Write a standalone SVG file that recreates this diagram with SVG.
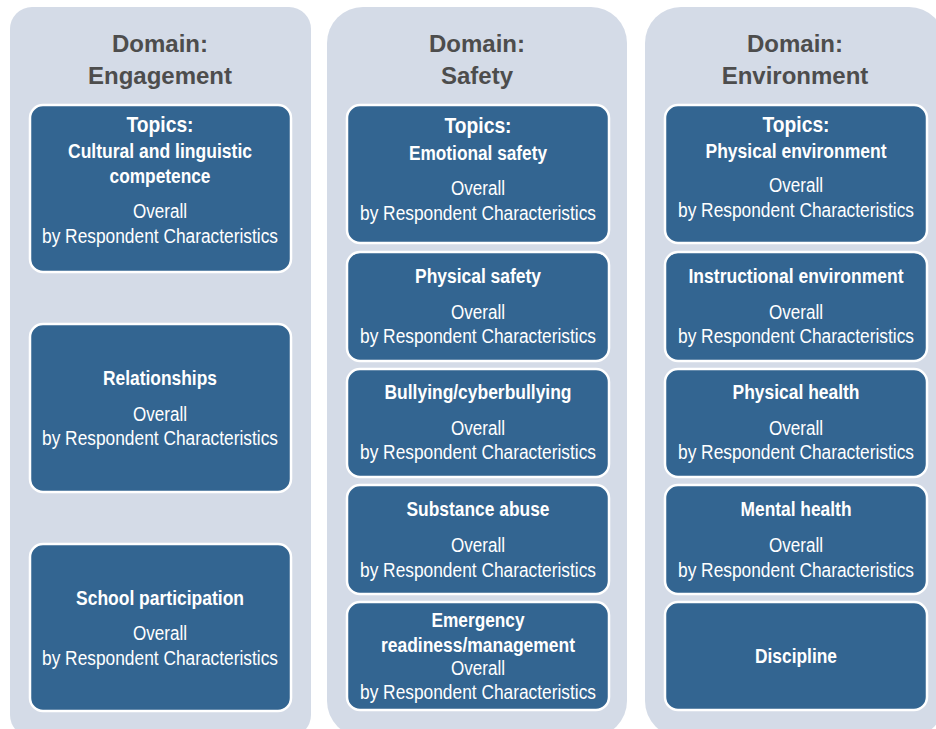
<svg xmlns="http://www.w3.org/2000/svg" width="936" height="729" viewBox="0 0 936 729">
<style>
.panel{fill:#d4dbe7}
.box{fill:#336591;stroke:#ffffff;stroke-width:2.5}
.dt{font-family:"Liberation Sans",Arial,sans-serif;font-weight:bold;font-size:24px;fill:#4d4d4d;text-anchor:middle}
.tp{font-family:"Liberation Sans",Arial,sans-serif;font-weight:bold;font-size:22px;fill:#ffffff;text-anchor:middle}
.tb{font-family:"Liberation Sans",Arial,sans-serif;font-weight:bold;font-size:20px;fill:#ffffff;text-anchor:middle}
.tr{font-family:"Liberation Sans",Arial,sans-serif;font-size:20px;fill:#ffffff;text-anchor:middle}
</style>
<rect width="936" height="729" fill="#ffffff"/>
<g id="panel-engagement">
<rect class="panel" x="10" y="7" width="301" height="730" rx="22"/>
<text class="dt" x="160" y="52">Domain:</text>
<text class="dt" x="160" y="84">Engagement</text>
</g>
<g id="panel-safety">
<rect class="panel" x="327" y="7" width="300" height="730" rx="36"/>
<text class="dt" x="477" y="52">Domain:</text>
<text class="dt" x="477" y="84">Safety</text>
</g>
<g id="panel-environment">
<rect class="panel" x="645" y="7" width="300" height="730" rx="36"/>
<text class="dt" x="795" y="52">Domain:</text>
<text class="dt" x="795" y="84">Environment</text>
</g>
<g id="connectors"></g>
<g id="n-cultural">
<rect class="box" x="30" y="105" width="261" height="167" rx="13"/>
<text class="tp" x="160" y="132" textLength="67" lengthAdjust="spacingAndGlyphs">Topics:</text>
<text class="tb" x="160" y="158" textLength="184" lengthAdjust="spacingAndGlyphs">Cultural and linguistic</text>
<text class="tb" x="160" y="183" textLength="101" lengthAdjust="spacingAndGlyphs">competence</text>
<text class="tr" x="160" y="218" textLength="54" lengthAdjust="spacingAndGlyphs">Overall</text>
<text class="tr" x="160" y="243" textLength="236" lengthAdjust="spacingAndGlyphs">by Respondent Characteristics</text>
</g>
<g id="n-relationships">
<rect class="box" x="30" y="324" width="261" height="168" rx="13"/>
<text class="tb" x="160" y="385" textLength="114" lengthAdjust="spacingAndGlyphs">Relationships</text>
<text class="tr" x="160" y="421" textLength="54" lengthAdjust="spacingAndGlyphs">Overall</text>
<text class="tr" x="160" y="445" textLength="236" lengthAdjust="spacingAndGlyphs">by Respondent Characteristics</text>
</g>
<g id="n-school">
<rect class="box" x="30" y="544" width="261" height="167" rx="13"/>
<text class="tb" x="160" y="605" textLength="168" lengthAdjust="spacingAndGlyphs">School participation</text>
<text class="tr" x="160" y="640" textLength="54" lengthAdjust="spacingAndGlyphs">Overall</text>
<text class="tr" x="160" y="665" textLength="236" lengthAdjust="spacingAndGlyphs">by Respondent Characteristics</text>
</g>
<g id="n-emotional">
<rect class="box" x="347" y="105" width="262" height="138" rx="13"/>
<text class="tp" x="478" y="133" textLength="67" lengthAdjust="spacingAndGlyphs">Topics:</text>
<text class="tb" x="478" y="160" textLength="138" lengthAdjust="spacingAndGlyphs">Emotional safety</text>
<text class="tr" x="478" y="195" textLength="54" lengthAdjust="spacingAndGlyphs">Overall</text>
<text class="tr" x="478" y="220" textLength="236" lengthAdjust="spacingAndGlyphs">by Respondent Characteristics</text>
</g>
<g id="n-physical-safety">
<rect class="box" x="347" y="252" width="262" height="109" rx="13"/>
<text class="tb" x="478" y="283" textLength="126" lengthAdjust="spacingAndGlyphs">Physical safety</text>
<text class="tr" x="478" y="319" textLength="54" lengthAdjust="spacingAndGlyphs">Overall</text>
<text class="tr" x="478" y="343" textLength="236" lengthAdjust="spacingAndGlyphs">by Respondent Characteristics</text>
</g>
<g id="n-bullying">
<rect class="box" x="347" y="369" width="262" height="108" rx="13"/>
<text class="tb" x="478" y="399" textLength="187" lengthAdjust="spacingAndGlyphs">Bullying/cyberbullying</text>
<text class="tr" x="478" y="435" textLength="54" lengthAdjust="spacingAndGlyphs">Overall</text>
<text class="tr" x="478" y="459" textLength="236" lengthAdjust="spacingAndGlyphs">by Respondent Characteristics</text>
</g>
<g id="n-substance">
<rect class="box" x="347" y="485" width="262" height="109" rx="13"/>
<text class="tb" x="478" y="516" textLength="143" lengthAdjust="spacingAndGlyphs">Substance abuse</text>
<text class="tr" x="478" y="552" textLength="54" lengthAdjust="spacingAndGlyphs">Overall</text>
<text class="tr" x="478" y="577" textLength="236" lengthAdjust="spacingAndGlyphs">by Respondent Characteristics</text>
</g>
<g id="n-emergency">
<rect class="box" x="347" y="602" width="262" height="108" rx="13"/>
<text class="tb" x="478" y="627" textLength="93" lengthAdjust="spacingAndGlyphs">Emergency</text>
<text class="tb" x="478" y="652" textLength="194" lengthAdjust="spacingAndGlyphs">readiness/management</text>
<text class="tr" x="478" y="675" textLength="54" lengthAdjust="spacingAndGlyphs">Overall</text>
<text class="tr" x="478" y="699" textLength="236" lengthAdjust="spacingAndGlyphs">by Respondent Characteristics</text>
</g>
<g id="n-physical-env">
<rect class="box" x="665" y="105" width="262" height="138" rx="13"/>
<text class="tp" x="796" y="132" textLength="67" lengthAdjust="spacingAndGlyphs">Topics:</text>
<text class="tb" x="796" y="158" textLength="181" lengthAdjust="spacingAndGlyphs">Physical environment</text>
<text class="tr" x="796" y="192" textLength="54" lengthAdjust="spacingAndGlyphs">Overall</text>
<text class="tr" x="796" y="217" textLength="236" lengthAdjust="spacingAndGlyphs">by Respondent Characteristics</text>
</g>
<g id="n-instructional">
<rect class="box" x="665" y="252" width="262" height="109" rx="13"/>
<text class="tb" x="796" y="283" textLength="215" lengthAdjust="spacingAndGlyphs">Instructional environment</text>
<text class="tr" x="796" y="319" textLength="54" lengthAdjust="spacingAndGlyphs">Overall</text>
<text class="tr" x="796" y="343" textLength="236" lengthAdjust="spacingAndGlyphs">by Respondent Characteristics</text>
</g>
<g id="n-physical-health">
<rect class="box" x="665" y="369" width="262" height="108" rx="13"/>
<text class="tb" x="796" y="399" textLength="127" lengthAdjust="spacingAndGlyphs">Physical health</text>
<text class="tr" x="796" y="435" textLength="54" lengthAdjust="spacingAndGlyphs">Overall</text>
<text class="tr" x="796" y="459" textLength="236" lengthAdjust="spacingAndGlyphs">by Respondent Characteristics</text>
</g>
<g id="n-mental-health">
<rect class="box" x="665" y="485" width="262" height="109" rx="13"/>
<text class="tb" x="796" y="516" textLength="111" lengthAdjust="spacingAndGlyphs">Mental health</text>
<text class="tr" x="796" y="552" textLength="54" lengthAdjust="spacingAndGlyphs">Overall</text>
<text class="tr" x="796" y="577" textLength="236" lengthAdjust="spacingAndGlyphs">by Respondent Characteristics</text>
</g>
<g id="n-discipline">
<rect class="box" x="665" y="602" width="262" height="108" rx="13"/>
<text class="tb" x="796" y="663" textLength="82" lengthAdjust="spacingAndGlyphs">Discipline</text>
</g>
</svg>
